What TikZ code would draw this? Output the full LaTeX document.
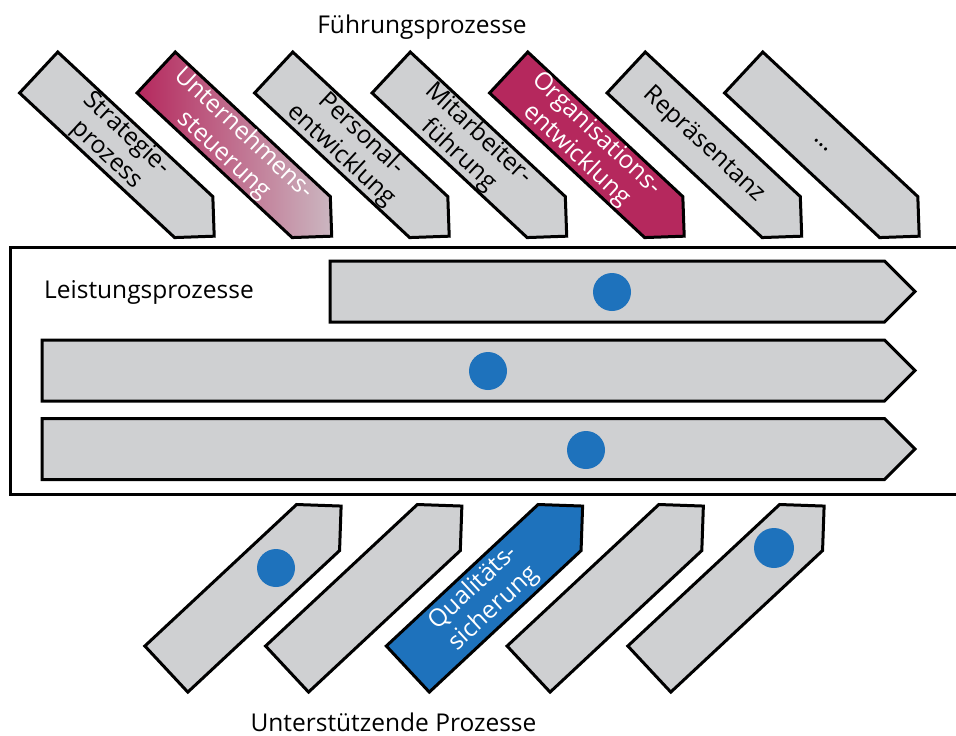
\documentclass[tikz,border=0pt]{standalone}
\usepackage{fontspec}
\setmainfont{Open Sans}
\usetikzlibrary{shapes.symbols}
\definecolor{ProcGrey}   {RGB}{207,208,210}
\definecolor{ProcMagenta}{RGB}{181,40,93}
\definecolor{ProcBlue}   {RGB}{30,114,188}

\begin{document}
\begin{tikzpicture}[x=1pt, y=-1pt,
  lead/.style ={signal, signal to=east, signal pointer angle=90, rotate=-43,
                minimum width=240pt, minimum height=56pt, inner sep=0pt,
                draw=black, line width=3pt, fill=ProcGrey, align=center,
                font=\fontsize{24.5}{29}\selectfont},
  core/.style ={signal, signal to=east, signal pointer angle=90,
                minimum height=61pt, inner sep=0pt,
                draw=black, line width=3pt, fill=ProcGrey},
  help/.style ={signal, signal to=east, signal pointer angle=90, rotate=43,
                minimum width=239pt, minimum height=63pt, inner sep=0pt,
                draw=black, line width=3pt, fill=ProcGrey, align=center,
                font=\fontsize{24.5}{29}\selectfont},
  dot/.style  ={circle, fill=ProcBlue, minimum size=38pt, inner sep=0pt},
  title/.style={anchor=base, font=\fontsize{24.5}{29}\selectfont}
]
\clip (0,0) rectangle (956,736);

% Führungsprozesse
\node[title] (tLead) at (422,33) {Führungsprozesse};
\node[lead] (l1) at (116.2,144.8) {Strategie-\\prozess};
\node[lead, left color=ProcMagenta, middle color=ProcMagenta!70!ProcGrey,
      right color=ProcGrey!85!ProcMagenta, text=white]
      (l2) at (233.7,144.8) {Unternehmens-\\steuerung};
\node[lead] (l3) at (351.2,144.8) {Personal-\\entwicklung};
\node[lead] (l4) at (468.7,144.8) {Mitarbeiter-\\führung};
\node[lead, fill=ProcMagenta, text=white] (l5) at (586.2,144.8) {Organisations-\\entwicklung};
\node[lead] (l6) at (703.7,144.8) {Repräsentanz};
\node[lead] (l7) at (821.2,144.8) {…};

% Leistungsprozesse
\draw[line width=3pt] (10,247) rectangle (975,494);
\node[title] (tCore) at (149,298) {Leistungsprozesse};
\node[core, minimum width=585pt] (c1) at (607.25,291.5) {};
\node[core, minimum width=873pt] (c2) at (463.25,370.5) {};
\node[core, minimum width=873pt] (c3) at (463.25,449) {};
\node[dot] (d1) at (612,292) {};
\node[dot] (d2) at (488,371) {};
\node[dot] (d3) at (586,450) {};

% Unterstützende Prozesse
\node[help] (h1) at (242.2,598.3) {};
\node[help] (h2) at (362.95,598.3) {};
\node[help, fill=ProcBlue, text=white] (h3) at (483.7,598.3) {Qualitäts-\\sicherung};
\node[help] (h4) at (604.45,598.3) {};
\node[help] (h5) at (725.2,598.3) {};
\node[dot] (d4) at (276,568) {};
\node[dot, minimum size=40pt] (d5) at (774,548) {};
\node[title] (tHelp) at (393.5,731) {Unterstützende Prozesse};
\end{tikzpicture}
\end{document}
